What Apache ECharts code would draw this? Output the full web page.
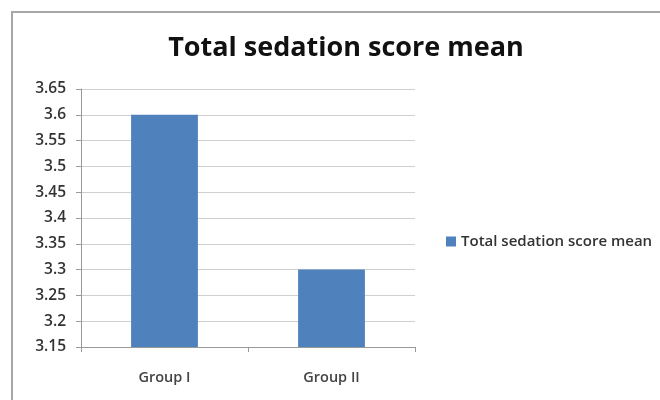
<!DOCTYPE html>
<html>
<head>
<meta charset="utf-8">
<script src="https://cdn.jsdelivr.net/npm/echarts@6/dist/echarts.min.js"></script>
<style>
  html, body { margin: 0; padding: 0; background: #fff; }
  #chart { width: 660px; height: 400px; }
</style>
</head>
<body>
<div id="chart"></div>
<script>
var categories = ['Group I', 'Group II'];
var seriesName = 'Total sedation score mean';
var meanValues = [3.6, 3.3];
var yMin = 3.15, yMax = 3.65, yStep = 0.05;

var myChart = echarts.init(document.getElementById('chart'));
var font = '"Open Sans", Lato, sans-serif';
var option = {
  animation: false,
  textStyle: { fontFamily: font },
  graphic: [{
    type: 'rect',
    shape: { x: 12, y: 12, width: 700, height: 450 },
    style: { fill: 'none', stroke: '#a6a6a6', lineWidth: 2 },
    silent: true
  }],
  title: {
    text: seriesName,
    left: 341, top: 30,
    textAlign: 'center',
    textStyle: { fontFamily: font, fontSize: 27, fontWeight: 'bold', color: '#111' }
  },
  legend: {
    left: 441, top: 229,
    itemWidth: 10, itemHeight: 10, itemGap: 3,
    icon: 'rect',
    textStyle: { fontFamily: font, fontSize: 15, fontWeight: 600, color: '#333' },
    data: [seriesName]
  },
  grid: { left: 81, right: 245, top: 89, bottom: 53, containLabel: false },
  xAxis: {
    type: 'category',
    data: categories,
    axisLine: { lineStyle: { color: '#999' } },
    axisTick: { show: true, alignWithLabel: false, length: 5, lineStyle: { color: '#999' } },
    axisLabel: { margin: 23, fontSize: 14.5, fontWeight: 600, color: '#444', fontFamily: font }
  },
  yAxis: {
    type: 'value',
    min: yMin, max: yMax, interval: yStep,
    axisLine: { show: true, lineStyle: { color: '#999' } },
    axisTick: { show: true, length: 5, lineStyle: { color: '#999' } },
    axisLabel: {
      fontSize: 15.5, fontWeight: 600, color: '#333', margin: 15, fontFamily: font,
      formatter: function (v) { return String(parseFloat(v.toFixed(2))); }
    },
    splitLine: { lineStyle: { color: '#cfcfcf' } }
  },
  series: [{
    name: seriesName,
    type: 'bar',
    data: meanValues,
    barWidth: '40%',
    itemStyle: { color: '#4f81bd' }
  }]
};
myChart.setOption(option);
</script>
</body>
</html>
